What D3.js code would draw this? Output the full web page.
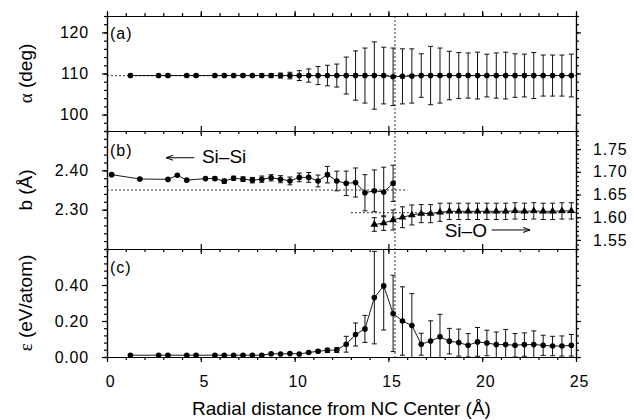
<!DOCTYPE html>
<html>
<head>
<meta charset="utf-8">
<script src="https://cdn.jsdelivr.net/npm/d3@7"></script>
<style>
  body { margin: 0; background: #fff; }
  text { font-family: 'Liberation Sans', Arial, sans-serif; fill: #000; }
  .tick text { font-size: 16px; letter-spacing: 0.8px; }
  .domain, .tick line { stroke: #000; stroke-width: 1.2; }
</style>
</head>
<body>
<div id="chart"></div>
<script>
// radial bins for panels (a) and (c)
const rBins = [1.25, 2.75, 3.25, 4.25, 4.75, 5.75, 6.25, 6.75, 7.25, 7.75, 8.25, 8.75, 9.25, 9.75, 10.25, 10.75,
  11.25, 11.75, 12.25, 12.75, 13.25, 13.75, 14.25, 14.75, 15.25, 15.75, 16.25, 16.75, 17.25, 17.75, 18.25, 18.75,
  19.25, 19.75, 20.25, 20.75, 21.25, 21.75, 22.25, 22.75, 23.25, 23.75, 24.25, 24.75]

const alpha = [109.5, 109.5, 109.5, 109.5, 109.5, 109.5, 109.5, 109.5, 109.5, 109.5, 109.5, 109.5, 109.5, 109.5, 109.5, 109.5,
  109.5, 109.5, 109.5, 109.5, 109.5, 109.5, 109.5, 109.5, 109.2, 109.3, 109.4, 109.5, 109.5, 109.5, 109.5, 109.5,
  109.5, 109.5, 109.5, 109.5, 109.5, 109.5, 109.5, 109.5, 109.5, 109.5, 109.5, 109.5]
const alphaErr = [0.3, 0.3, 0.3, 0.3, 0.3, 0.3, 0.3, 0.3, 0.3, 0.3, 0.4, 0.5, 0.6, 0.8, 1.2, 1.6,
  2.2, 2.5, 2.8, 4.5, 6.0, 6.7, 8.2, 6.9, 7.0, 6.7, 6.6, 5.3, 7.1, 6.7, 5.9, 5.6,
  5.5, 5.7, 5.2, 5.5, 5.7, 5.3, 5.2, 5.6, 5.0, 5.0, 5.0, 5.2]

const eps = [0.010, 0.010, 0.010, 0.010, 0.010, 0.010, 0.010, 0.010, 0.010, 0.010, 0.010, 0.018, 0.017, 0.019, 0.017, 0.025,
  0.032, 0.037, 0.039, 0.071, 0.125, 0.156, 0.330, 0.395, 0.242, 0.200, 0.175, 0.071, 0.089, 0.112, 0.088, 0.080,
  0.065, 0.084, 0.078, 0.069, 0.069, 0.065, 0.069, 0.069, 0.065, 0.061, 0.061, 0.065]
const epsErr = [0, 0, 0, 0, 0, 0, 0, 0, 0, 0, 0, 0, 0, 0, 0.003, 0.006,
  0.008, 0.012, 0.014, 0.044, 0.064, 0.075, 0.257, 0.245, 0.212, 0.190, 0.177, 0.061, 0.112, 0.125, 0.071, 0.075,
  0.065, 0.080, 0.071, 0.070, 0.084, 0.065, 0.065, 0.076, 0.056, 0.054, 0.056, 0.060]

// Si-Si bond length (left axis of panel b)
const siSiR = [0.25, 1.75, 3.25, 3.75, 4.25, 5.25, 5.75, 6.25, 6.75, 7.25, 7.75, 8.25, 8.75, 9.25, 9.75, 10.25,
  10.75, 11.25, 11.75, 12.25, 12.75, 13.25, 13.75, 14.25, 14.75, 15.25]
const siSi = [2.389, 2.378, 2.377, 2.3875, 2.375, 2.379, 2.379, 2.3725, 2.380, 2.3775, 2.375, 2.3775, 2.381, 2.3775, 2.373, 2.382,
  2.382, 2.373, 2.389, 2.373, 2.367, 2.369, 2.343, 2.348, 2.345, 2.367]
const siSiErr = [0, 0.002, 0.002, 0, 0.002, 0.003, 0.004, 0.005, 0.005, 0.006, 0.007, 0.008, 0.008, 0.009, 0.010, 0.011,
  0.0125, 0.015, 0.021, 0.025, 0.031, 0.037, 0.046, 0.053, 0.063, 0.046]

// Si-O bond length (right axis of panel b)
const siOR = [14.25, 14.75, 15.25, 15.75, 16.25, 16.75, 17.25, 17.75, 18.25, 18.75, 19.25, 19.75, 20.25, 20.75,
  21.25, 21.75, 22.25, 22.75, 23.25, 23.75, 24.25, 24.75]
const siO = [1.584, 1.587, 1.594, 1.600, 1.605, 1.608, 1.608, 1.611, 1.613, 1.613, 1.613, 1.613, 1.613, 1.613,
  1.613, 1.614, 1.613, 1.614, 1.613, 1.613, 1.614, 1.614]
const siOErr = [0.015, 0.016, 0.022, 0.023, 0.022, 0.020, 0.020, 0.020, 0.018, 0.018, 0.018, 0.018, 0.018, 0.018,
  0.018, 0.018, 0.018, 0.018, 0.018, 0.018, 0.018, 0.018]

const xTicks = [0, 5, 10, 15, 20, 25]
const aTicks = [100, 110, 120]
const bTicks = [2.3, 2.4]
const b2Ticks = [1.55, 1.6, 1.65, 1.7, 1.75]
const cTicks = [0, 0.2, 0.4]

const tetra = 109.47
const siSiBulk = 2.35
const siOBulk = 1.61
const ncRadius = 15.35

const width = 634
const height = 420
const left = 107
const right = 576

const svg = d3.select('#chart').append('svg')
  .attr('width', width)
  .attr('height', height)

const x = d3.scaleLinear().domain([0, 25]).range([left, right])
const yA = d3.scaleLinear().domain([96, 124]).range([131, 16])
const yB = d3.scaleLinear().domain([2.2, 2.5]).range([249, 131])
const yB2 = d3.scaleLinear().domain([1.53, 1.79]).range([249, 131])
const yC = d3.scaleLinear().domain([0, 0.6]).range([357, 249])

const xMinor = d3.range(0, 25.01, 1)

// frames and axes
function xFrame(y, top, bottomTicks, labels) {
  const gy = y.range()
  // bottom edge
  const b = svg.append('g').attr('transform', `translate(0,${gy[0]})`)
  b.call(d3.axisBottom(x).tickValues(xMinor).tickSize(3).tickFormat('').tickSizeOuter(0))
  const bm = svg.append('g').attr('transform', `translate(0,${gy[0]})`)
  bm.call(d3.axisBottom(x).tickValues(xTicks).tickSize(5).tickSizeOuter(0)
    .tickPadding(14).tickFormat(labels ? d3.format('d') : ''))
  bm.selectAll('.tick text').attr('dx', 3)
  // top edge
  const t = svg.append('g').attr('transform', `translate(0,${gy[1]})`)
  if (top) {
    t.call(d3.axisTop(x).tickValues(xMinor).tickSize(3).tickFormat('').tickSizeOuter(0))
  }
  svg.append('g').attr('transform', `translate(0,${gy[1]})`)
    .call(d3.axisTop(x).tickValues(xTicks).tickSize(5).tickFormat('').tickSizeOuter(0))
}

function yFrame(y, majors, minorStep, fmt, rightScale) {
  const [lo, hi] = y.domain()
  const minors = d3.range(lo, hi + minorStep / 2, minorStep)
  svg.append('g').attr('transform', `translate(${left},0)`)
    .call(d3.axisLeft(y).tickValues(minors).tickSize(3).tickFormat('').tickSizeOuter(0))
  svg.append('g').attr('transform', `translate(${left},0)`)
    .call(d3.axisLeft(y).tickValues(majors).tickSize(5).tickPadding(13).tickFormat(d3.format(fmt)).tickSizeOuter(0))
  if (!rightScale) {
    svg.append('g').attr('transform', `translate(${right},0)`)
      .call(d3.axisRight(y).tickValues(minors).tickSize(3).tickFormat('').tickSizeOuter(0))
    svg.append('g').attr('transform', `translate(${right},0)`)
      .call(d3.axisRight(y).tickValues(majors).tickSize(5).tickFormat('').tickSizeOuter(0))
  }
}

yFrame(yA, aTicks, 2, 'd')
yFrame(yB, bTicks, 0.02, '.2f', true)
yFrame(yC, cTicks, 0.04, '.2f')

// right axis of (b), Si-O
const [lo2, hi2] = yB2.domain()
svg.append('g').attr('transform', `translate(${right},0)`)
  .call(d3.axisRight(yB2).tickValues(d3.range(lo2, hi2 + 0.005, 0.01)).tickSize(3).tickFormat('').tickSizeOuter(0))
svg.append('g').attr('transform', `translate(${right},0)`)
  .call(d3.axisRight(yB2).tickValues(b2Ticks).tickSize(5).tickPadding(12).tickFormat(d3.format('.2f')).tickSizeOuter(0))

xFrame(yA, true, true, false)
xFrame(yB, false, true, false)
xFrame(yC, false, true, true)

// reference lines
const dotted = '2,2'
svg.append('line')
  .attr('x1', x(0)).attr('x2', x(25))
  .attr('y1', yA(tetra)).attr('y2', yA(tetra))
  .attr('stroke', '#333').attr('stroke-dasharray', dotted)
svg.append('line')
  .attr('x1', x(0)).attr('x2', x(16))
  .attr('y1', yB(siSiBulk)).attr('y2', yB(siSiBulk))
  .attr('stroke', '#333').attr('stroke-dasharray', dotted)
svg.append('line')
  .attr('x1', x(13)).attr('x2', x(25))
  .attr('y1', yB2(siOBulk)).attr('y2', yB2(siOBulk))
  .attr('stroke', '#333').attr('stroke-dasharray', dotted)
svg.append('line')
  .attr('x1', x(ncRadius)).attr('x2', x(ncRadius))
  .attr('y1', yA.range()[1]).attr('y2', yC.range()[0])
  .attr('stroke', '#333').attr('stroke-dasharray', dotted)

// data series
function series(xv, yv, ev, y, marker) {
  const [lo, hi] = y.domain()
  const rows = xv.map((d, i) => ({ x: d, y: yv[i], e: ev[i] }))
  const g = svg.append('g')

  g.append('path')
    .datum(rows)
    .attr('fill', 'none')
    .attr('stroke', '#000')
    .attr('stroke-width', 0.9)
    .attr('d', d3.line().x(d => x(d.x)).y(d => y(d.y)))

  g.selectAll('.bar')
    .data(rows)
    .enter()
    .append('line')
    .attr('class', 'bar')
    .attr('x1', d => x(d.x))
    .attr('x2', d => x(d.x))
    .attr('y1', d => y(Math.max(d.y - d.e, lo)))
    .attr('y2', d => y(Math.min(d.y + d.e, hi)))
    .attr('stroke', '#111')
    .attr('stroke-width', 1)

  const caps = []
  rows.forEach(d => {
    if (d.y - d.e >= lo) caps.push({ x: d.x, v: d.y - d.e })
    if (d.y + d.e <= hi) caps.push({ x: d.x, v: d.y + d.e })
  })
  g.selectAll('.cap')
    .data(caps)
    .enter()
    .append('line')
    .attr('class', 'cap')
    .attr('x1', d => x(d.x) - 2.5)
    .attr('x2', d => x(d.x) + 2.5)
    .attr('y1', d => y(d.v))
    .attr('y2', d => y(d.v))
    .attr('stroke', '#111')
    .attr('stroke-width', 1)

  if (marker === 'triangle') {
    g.selectAll('.pt')
      .data(rows)
      .enter()
      .append('path')
      .attr('class', 'pt')
      .attr('d', d3.symbol(d3.symbolTriangle).size(26))
      .attr('transform', d => `translate(${x(d.x)},${y(d.y)})`)
      .attr('fill', '#000')
  } else {
    g.selectAll('.pt')
      .data(rows)
      .enter()
      .append('circle')
      .attr('class', 'pt')
      .attr('cx', d => x(d.x))
      .attr('cy', d => y(d.y))
      .attr('r', 2.8)
      .attr('fill', '#000')
  }
}

series(rBins, alpha, alphaErr, yA, 'circle')
series(siSiR, siSi, siSiErr, yB, 'circle')
series(siOR, siO, siOErr, yB2, 'triangle')
series(rBins, eps, epsErr, yC, 'circle')

// panel labels
const panelLabels = ['(a)', '(b)', '(c)']
const panelBase = [39, 156, 272.5]
panelLabels.forEach((t, i) => {
  svg.append('text')
    .attr('x', 110)
    .attr('y', panelBase[i])
    .attr('font-size', 16)
    .attr('letter-spacing', 1)
    .text(t)
})

// Si-Si / Si-O annotations
function arrow(x1, x2, yy) {
  const dir = Math.sign(x2 - x1)
  svg.append('path')
    .attr('d', `M${x1},${yy}L${x2},${yy}M${x2 - dir * 7},${yy - 2.5}L${x2},${yy}L${x2 - dir * 7},${yy + 2.5}`)
    .attr('fill', 'none')
    .attr('stroke', '#000')
    .attr('stroke-width', 1)
}
arrow(x(4.65), x(3.15), yB(2.432))
svg.append('text')
  .attr('x', x(5.06))
  .attr('y', yB(2.4187))
  .attr('font-size', 19)
  .text('Si–Si')

svg.append('text')
  .attr('x', x(18.0))
  .attr('y', yB2(1.5564))
  .attr('font-size', 19)
  .text('Si–O')
arrow(x(20.5), x(22.55), yB2(1.5719))

// axis titles
function yTitle(y, greek, rest) {
  const r = y.range()
  const t = svg.append('text')
    .attr('transform', `translate(32,${(r[0] + r[1]) / 2}) rotate(-90)`)
    .attr('text-anchor', 'middle')
    .attr('font-size', 19)
  if (greek) {
    t.append('tspan').attr('font-family', 'Liberation Serif').text(greek)
  }
  t.append('tspan').text(rest)
}
yTitle(yA, 'α', ' (deg)')
yTitle(yB, null, 'b (Å)')
yTitle(yC, 'ε', ' (eV/atom)')

svg.append('text')
  .attr('x', (left + right) / 2)
  .attr('y', 415)
  .attr('text-anchor', 'middle')
  .attr('font-size', 19)
  .text('Radial distance from NC Center (Å)')
</script>
</body>
</html>
